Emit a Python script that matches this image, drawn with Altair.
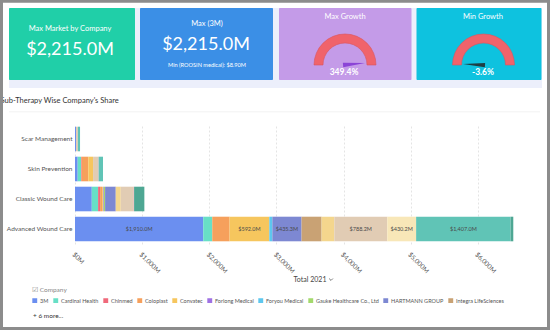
import altair as alt
import pandas as pd

# ---------------- data ----------------
therapies = ["Scar Management", "Skin Prevention", "Classic Wound Care", "Advanced Wound Care"]
companies = ["3M", "Cardinal Health", "Chinmed", "Coloplast", "Convatec", "Forlong Medical",
             "Foryou Medical", "Gauke Healthcare Co., Ltd", "HARTMANN GROUP", "Integra LifeSciences",
             "Medline", "Mölnlycke", "ROOSIN medical", "Smith & Nephew", "Winner Medical", "Zhende Medical"]
colors = ["#6b8ff0", "#68dfc6", "#f0697b", "#f6a05c", "#f6c65e", "#9f71e3",
          "#5ec7ee", "#a3d96c", "#7d88d2", "#c9a274", "#f4d68d", "#e1ccb4",
          "#e78fb2", "#f8e7b8", "#60c4b6", "#4ea793"]

# values in $M, order: Scar, Skin, Classic, Advanced
v_3m        = [15, 40, 250, 1910.0]
v_cardinal  = [0, 50, 94, 134]
v_chinmed   = [0, 10, 30, 0]
v_coloplast = [0, 99, 30, 258]
v_convatec  = [0, 70, 15, 592.0]
v_forlong   = [0, 0, 10, 0]
v_foryou    = [0, 0, 0, 45]
v_gauke     = [0, 0, 19, 0]
v_hartmann  = [0, 0, 159, 435.3]
v_integra   = [0, 0, 0, 298]
v_medline   = [0, 0, 74, 190]
v_molnlycke = [28, 79, 194, 788.2]
v_roosin    = [0, 3.9, 5, 0]
v_smith     = [0, 0, 0, 430.2]
v_winner    = [32, 65, 0, 1407.0]
v_zhende    = [0, 0, 153, 40]
all_vals = [v_3m, v_cardinal, v_chinmed, v_coloplast, v_convatec, v_forlong, v_foryou, v_gauke,
            v_hartmann, v_integra, v_medline, v_molnlycke, v_roosin, v_smith, v_winner, v_zhende]

x_ticks = [0, 1000, 2000, 3000, 4000, 5000, 6000]

kpi_max_market = "$2,215.0M"
kpi_max_3m = "$2,215.0M"
kpi_min_note = "Min (ROOSIN medical): $8.90M"
kpi_max_growth = "349.4%"
kpi_min_growth = "-3.6%"

rows = []
for ci, (c, vals) in enumerate(zip(companies, all_vals)):
    for t, v in zip(therapies, vals):
        if v > 0:
            rows.append({"company": c, "therapy": t, "value": v, "idx": ci})
df = pd.DataFrame(rows)
one = pd.DataFrame({"k": [0]})

FONT = "Lato"
OX, OY = 75, 124   # plot origin in page pixels
PW, PH = 470, 120


def rect(x1, y1, x2, y2, **kw):
    return alt.Chart(one).mark_rect(**kw).encode(
        x=alt.value(x1 - OX), x2=alt.value(x2 - OX), y=alt.value(y1 - OY), y2=alt.value(y2 - OY))


def text(t, x, y, **kw):
    kw.setdefault("font", FONT)
    return alt.Chart(one).mark_text(**kw).encode(
        x=alt.value(x - OX), y=alt.value(y - OY), text=alt.value(t))


def gauge(cx, cy):
    return alt.Chart(one).mark_arc(color="#f0636b", stroke="#d9565e", strokeWidth=0.6).encode(
        x=alt.value(cx - OX), y=alt.value(cy - OY),
        theta=alt.value(4.712389), theta2=alt.value(7.853982),
        radius=alt.value(31), radius2=alt.value(22))


def needle(x, y, ang, col):
    return alt.Chart(one).mark_point(shape="M-1,-0.2L1,0L-1,0.2Z", filled=True, color=col,
                                     size=484, opacity=1, strokeWidth=0, angle=ang).encode(
        x=alt.value(x - OX), y=alt.value(y - OY))


layers = [
    rect(9, 8, 542, 88, color="#eceffb"),
    rect(9, 8, 135, 80, color="#20cfa8", cornerRadius=1),
    rect(140, 8, 273, 80, color="#3b8fe6", cornerRadius=1),
    rect(279, 8, 411.5, 80, color="#c49be8", cornerRadius=1),
    rect(416.5, 8, 541.5, 80, color="#0ec2df", cornerRadius=1),
    text("Max Market by Company", 70, 28.5, fontSize=7.5, color="white"),
    text(kpi_max_market, 70, 50, fontSize=18, color="white"),
    text("Max (3M)", 207, 23.5, fontSize=7.5, color="white"),
    text(kpi_max_3m, 206, 44.5, fontSize=18, color="white"),
    text(kpi_min_note, 207, 64.5, fontSize=5.6, color="white"),
    text("Max Growth", 345, 16.5, fontSize=7.5, color="white"),
    gauge(345, 65),
    needle(354, 64, 355, "#8b44d6"),
    text(kpi_max_growth, 344, 72, fontSize=8.5, fontWeight="bold", color="white"),
    text("Min Growth", 483, 16.5, fontSize=7.5, color="white"),
    gauge(483.5, 65),
    needle(474, 64.5, 183, "#1f3d42"),
    text(kpi_min_growth, 483, 72, fontSize=8.5, fontWeight="bold", color="white"),
    text("Sub-Therapy Wise Company's Share", 0.5, 100.5, fontSize=7.5, color="#333", align="left"),
    rect(9, 111.5, 540, 112.3, color="#ededed"),
]

bars = alt.Chart(df).mark_bar().encode(
    x=alt.X("value:Q", stack="zero", title=None,
            scale=alt.Scale(domain=[0, 7000], nice=False),
            axis=alt.Axis(values=x_ticks, labelExpr="'$' + format(datum.value, ',') + 'M'",
                          labelAngle=45, labelFont=FONT, labelFontSize=6.5, labelColor="#555",
                          labelPadding=7, ticks=False, domain=False, grid=True,
                          gridColor="#dddddd", gridDash=[2, 2], gridWidth=0.8)),
    y=alt.Y("therapy:N", sort=therapies, title=None,
            scale=alt.Scale(paddingInner=0.18, paddingOuter=0.09),
            axis=alt.Axis(labelFont=FONT, labelFontSize=6.5, labelColor="#555", labelPadding=3,
                          ticks=False, domain=False, grid=False)),
    color=alt.Color("company:N", scale=alt.Scale(domain=companies, range=colors),
                    legend=alt.Legend(
                        title="☑ Company", orient="none", legendX=-43, legendY=163,
                        direction="horizontal", columns=10, values=companies[:10],
                        symbolType="M-1,-1H1V1H-1Z M-0.55,0 L-0.45,-0.1 L-0.15,0.2 L0.45,-0.55 L0.55,-0.45 L-0.15,0.4 Z",
                        symbolSize=24, symbolStrokeWidth=0, symbolOpacity=1,
                        labelFont=FONT, labelFontSize=5.5, labelColor="#555", labelOffset=2.5,
                        columnPadding=4, titleFont=FONT, titleFontSize=6.5,
                        titleFontWeight="normal", titleColor="#888", titlePadding=4, padding=0)),
    order=alt.Order("idx:Q", sort="ascending"),
)

labels = alt.Chart(df).transform_stack(
    stack="value", groupby=["therapy"], sort=[alt.SortField("idx", order="ascending")], as_=["x0", "x1"]
).transform_calculate(
    mid="(datum.x0 + datum.x1) / 2", lab="'$' + format(datum.value, ',.1f') + 'M'"
).transform_filter("datum.value >= 400").mark_text(font=FONT, fontSize=5.5, color="#4a4a4a").encode(
    x=alt.X("mid:Q"), y=alt.Y("therapy:N", sort=therapies), text="lab:N")

axis_title = text("Total 2021", 310, 279.5, fontSize=7, color="#444")
chevron = alt.Chart(one).mark_point(shape="M-1,-0.5L0,0.5L1,-0.5", filled=False, color="#555",
                                    size=14, strokeWidth=0.8, opacity=1).encode(
    x=alt.value(331 - OX), y=alt.value(279.5 - OY))
more = text("+ 6 more...", 33, 316, fontSize=6.5, color="#333", align="left")

border = alt.Chart(one).mark_rect(fill="transparent", stroke="#8c8c8c", strokeWidth=3).encode(
    x=alt.value(1.5 - OX), x2=alt.value(548.5 - OX), y=alt.value(1.2 - OY), y2=alt.value(328.5 - OY))

chart = alt.layer(*layers, bars, labels, axis_title, chevron, more, border).properties(
    width=PW, height=PH,
    padding={"left": OX, "top": OY, "right": 550 - OX - PW, "bottom": 330 - OY - PH},
    autosize=alt.AutoSizeParams(type="none"),
).configure(background="white").configure_view(stroke=None)

chart.save("out.html", embed_options={"renderer": "svg", "actions": False})
